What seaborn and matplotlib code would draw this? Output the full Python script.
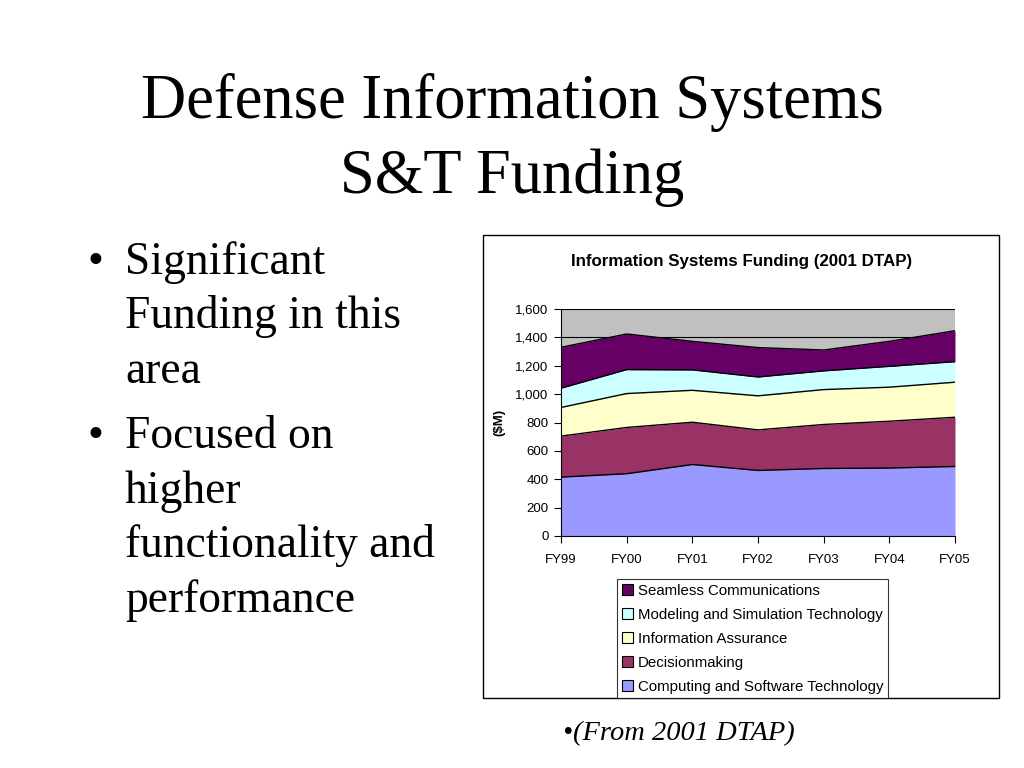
import matplotlib
matplotlib.use("Agg")
import matplotlib.pyplot as plt
from matplotlib.patches import Patch, Rectangle
import numpy as np
import pandas as pd
import seaborn as sns

# ---- data ----
years = ["FY99", "FY00", "FY01", "FY02", "FY03", "FY04", "FY05"]
computing = [415, 439, 504, 462, 476, 479, 490]
decisionmaking = [289, 326, 298, 286, 310, 330, 347]
info_assurance = [202, 239, 225, 240, 246, 240, 247]
modeling = [136, 169, 144, 133, 132, 147, 145]
seamless = [288, 251, 201, 207, 147, 176, 218]
series_names = ["Computing and Software Technology", "Decisionmaking",
                "Information Assurance", "Modeling and Simulation Technology",
                "Seamless Communications"]
series_colors = ["#9999FF", "#993366", "#FFFFCC", "#CCFFFF", "#660066"]
y_ticks = [0, 200, 400, 600, 800, 1000, 1200, 1400, 1600]

sns.set_style("white")
plt.rcParams['font.family'] = ['Liberation Sans', 'DejaVu Sans']
plt.rcParams['text.color'] = 'black'
plt.rcParams['axes.labelcolor'] = 'black'
plt.rcParams['xtick.color'] = 'black'
plt.rcParams['ytick.color'] = 'black'

W, H = 1024, 768
def fx(x): return x / W
def fy(y): return 1 - y / H

fig = plt.figure(figsize=(10.24, 7.68), dpi=100)
fig.patch.set_facecolor("white")

# Slide title
serif = ['Liberation Serif', 'DejaVu Serif']
fig.text(0.5, fy(118), "Defense Information Systems", ha="center", va="baseline",
         fontsize=45, family=serif, color="black")
fig.text(0.5, fy(193), "S&T Funding", ha="center", va="baseline",
         fontsize=45, family=serif, color="black")

# Bullets
bullets = [["Significant", "Funding in this", "area"],
           ["Focused on", "higher", "functionality and", "performance"]]
baselines = [[274, 328, 383], [448, 503, 557, 612]]
for lines, bls in zip(bullets, baselines):
    fig.text(fx(88), fy(bls[0]), "•", ha="left", va="baseline", fontsize=32.8,
             family=serif, color="black")
    for ln, b in zip(lines, bls):
        fig.text(fx(125), fy(b), ln, ha="left", va="baseline", fontsize=32.8,
                 family=serif, color="black")

# footer
fig.text(fx(563), fy(740), "•(From 2001 DTAP)", ha="left", va="baseline",
         fontsize=20.5, family=serif, style="italic", color="black")

# chart frame
fig.patches.append(Rectangle((fx(483), fy(698)), (999 - 483) / W, (698 - 235) / H,
                             transform=fig.transFigure, fill=False,
                             edgecolor="black", lw=1.0))

ax = fig.add_axes([fx(561), fy(536), (955 - 561) / W, (536 - 309) / H])
ax.set_facecolor("#C0C0C0")

x = np.arange(len(years))
data = [computing, decisionmaking, info_assurance, modeling, seamless]
for t in y_ticks[1:]:
    ax.axhline(t, color="black", lw=0.8, zorder=0)
ax.stackplot(x, *data, colors=series_colors, linewidth=0.0, zorder=2)

# outlines via seaborn
cum = np.cumsum(np.array(data), axis=0)
rows = []
for name, c in zip(series_names, cum):
    for xi, v in zip(x, c):
        rows.append({"x": xi, "cum": v, "series": name})
df = pd.DataFrame(rows)
sns.lineplot(data=df, x="x", y="cum", units="series", estimator=None,
             color="black", lw=1.0, ax=ax, zorder=3, legend=False)

ax.set_xlim(0, len(years) - 1)
ax.set_ylim(0, 1600)
ax.set_yticks(y_ticks)
ax.set_yticklabels([f"{v:,}" for v in y_ticks], fontsize=9.5)
ax.set_xticks(x)
ax.set_xticklabels(years, fontsize=9.5)
ax.tick_params(axis="both", direction="out", length=5, width=0.8, colors="black",
               left=True, bottom=True)
ax.tick_params(axis="x", pad=8)
ax.tick_params(axis="y", pad=4)
ax.set_xlabel("")
ax.set_ylabel("($M)", fontsize=9.5, fontweight="bold", labelpad=7)
for s in ["top", "right"]:
    ax.spines[s].set_visible(False)
for s in ["left", "bottom"]:
    ax.spines[s].set_color("black")
    ax.spines[s].set_linewidth(0.8)

fig.text(fx(742), fy(262), "Information Systems Funding (2001 DTAP)", ha="center",
         va="center", fontsize=12.2, fontweight="bold", color="black")

handles = [Patch(facecolor=c, edgecolor="black", lw=0.8, label=n)
           for n, c in zip(series_names, series_colors)][::-1]
leg = fig.legend(handles=handles, loc="lower left",
                 bbox_to_anchor=(fx(617), fy(698)), frameon=True, fancybox=False,
                 fontsize=10.8, handlelength=0.75, handleheight=0.75, handletextpad=0.35,
                 borderpad=0.3, labelspacing=0.66, borderaxespad=0)
leg.get_frame().set_edgecolor("black")
leg.get_frame().set_linewidth(0.8)

fig.savefig("out.png", dpi=100, facecolor="white")
